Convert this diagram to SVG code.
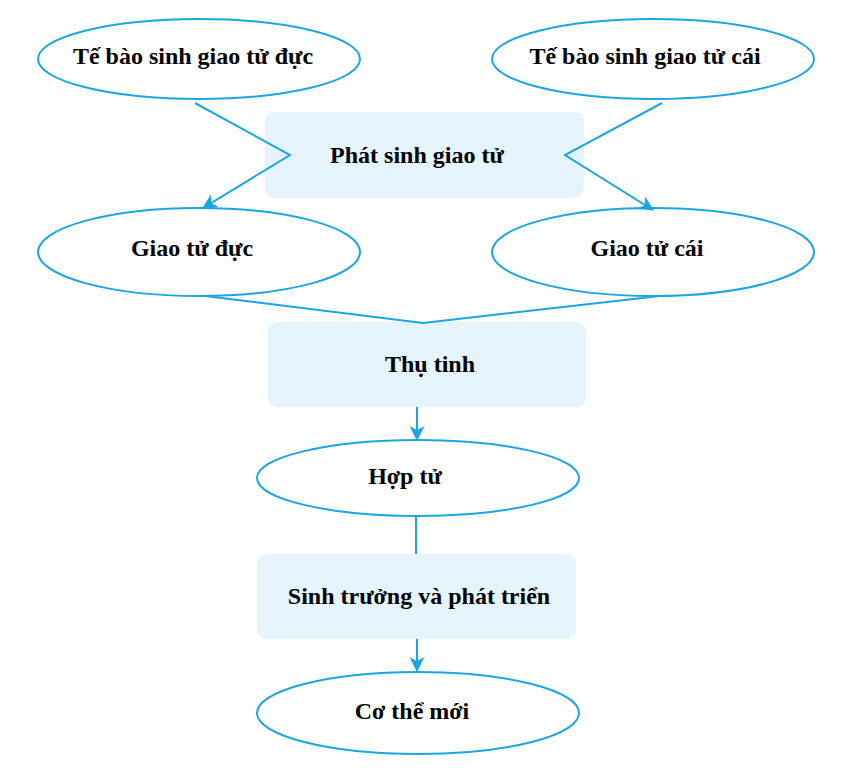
<svg xmlns="http://www.w3.org/2000/svg" width="845" height="772" viewBox="0 0 845 772">
<defs>
<style>
.ell{fill:#fff;stroke:#1aa6e0;stroke-width:2}
.box{fill:#e6f5fd;stroke:none}
.t{font-family:"Liberation Serif",serif;font-weight:bold;font-size:24px;fill:#000;text-anchor:middle}
.c{fill:none;stroke:#1aa6e0;stroke-width:2}
</style>
<marker id="ah" viewBox="0 0 14 14" refX="13" refY="7" markerWidth="15" markerHeight="15" markerUnits="userSpaceOnUse" orient="auto">
<path d="M0,0 L14,7 L0,14 L4,7 z" fill="#1aa6e0"/>
</marker>
</defs>
<rect width="845" height="772" fill="#fff"/>
<g id="n1"><ellipse class="ell" cx="199" cy="59" rx="161" ry="40"/><text class="t" x="193" y="64">Tế bào sinh giao tử đực</text></g>
<g id="n2"><ellipse class="ell" cx="653" cy="59" rx="161" ry="40"/><text class="t" x="645" y="64">Tế bào sinh giao tử cái</text></g>
<g id="n3"><rect class="box" x="265" y="112" width="319" height="86" rx="9"/><text class="t" x="417" y="163">Phát sinh giao tử</text></g>
<g id="n4"><ellipse class="ell" cx="199" cy="252" rx="161" ry="44"/><text class="t" x="192" y="256">Giao tử đực</text></g>
<g id="n5"><ellipse class="ell" cx="653" cy="252" rx="161" ry="44"/><text class="t" x="647" y="256">Giao tử cái</text></g>
<g id="n6"><rect class="box" x="268" y="322" width="318" height="85" rx="9"/><text class="t" x="430" y="372">Thụ tinh</text></g>
<g id="n7"><ellipse class="ell" cx="418" cy="478" rx="161" ry="38"/><text class="t" x="405" y="484">Hợp tử</text></g>
<g id="n8"><rect class="box" x="257" y="554" width="319" height="85" rx="9"/><text class="t" x="419" y="604">Sinh trưởng và phát triển</text></g>
<g id="n9"><ellipse class="ell" cx="418" cy="713" rx="161" ry="41"/><text class="t" x="412" y="719">Cơ thể mới</text></g>
<g id="connectors">
<polyline class="c" points="195,103 290,155 203,208" marker-end="url(#ah)"/>
<polyline class="c" points="662,103 565,155 653,210" marker-end="url(#ah)"/>
<polyline class="c" points="205,296 423,323 660,296"/>
<line class="c" x1="417" y1="407" x2="417" y2="440" marker-end="url(#ah)"/>
<line class="c" x1="416" y1="517" x2="416" y2="554"/>
<line class="c" x1="417" y1="639" x2="417" y2="671" marker-end="url(#ah)"/>
</g>
</svg>
